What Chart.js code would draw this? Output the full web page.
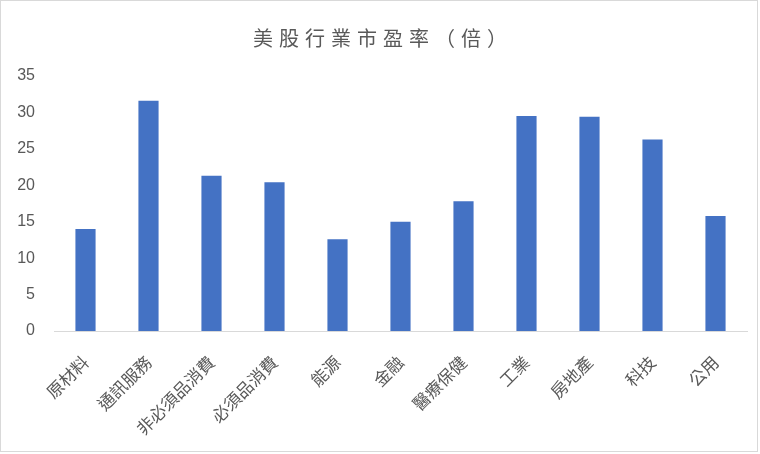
<!DOCTYPE html>
<html>
<head>
<meta charset="utf-8">
<script src="https://cdn.jsdelivr.net/npm/chart.js@4"></script>
<style>
  html, body { margin: 0; padding: 0; background: #fff; }
  #wrap { width: 760px; height: 454px; }
</style>
</head>
<body>
<div id="wrap"><canvas id="chart" width="760" height="454"></canvas></div>
<script>
// ===============================
// Data
// ===============================
const chartTitle = "美股行業市盈率（倍）";
const sectors = ["原材料", "通訊服務", "非必須品消費", "必須品消費", "能源", "金融",
  "醫療保健", "工業", "房地產", "科技", "公用"];
const peRatios = [14.0, 31.6, 21.3, 20.4, 12.6, 15.0, 17.8, 29.5, 29.4, 26.3, 15.8];
const yTicks = [0, 5, 10, 15, 20, 25, 30, 35];

const GREY = "#595959";
const CJK = '"Noto Sans CJK TC", "Noto Sans CJK SC", sans-serif';

// background, frame and spaced-out title
const frame = {
  id: "frame",
  beforeDraw(chart) {
    const ctx = chart.ctx;
    ctx.save();
    ctx.fillStyle = "#fff";
    ctx.fillRect(0, 0, chart.width, chart.height);
    ctx.strokeStyle = "#d9d9d9";
    ctx.lineWidth = 1;
    ctx.strokeRect(0.5, 0.5, chart.width - 3, chart.height - 3);
    ctx.restore();
  },
  afterDraw(chart) {
    const ctx = chart.ctx;
    ctx.save();
    ctx.font = "20px " + CJK;
    ctx.fillStyle = GREY;
    ctx.textAlign = "center";
    ctx.textBaseline = "middle";
    ctx.letterSpacing = "6px";
    ctx.fillText(chartTitle, chart.width / 2 + 3, 38);
    ctx.restore();
  }
};

new Chart(document.getElementById("chart"), {
  type: "bar",
  data: {
    labels: sectors,
    datasets: [{
      data: peRatios,
      backgroundColor: "#4472C4",
      barPercentage: 1,
      categoryPercentage: 0.32
    }]
  },
  plugins: [frame],
  options: {
    responsive: false,
    animation: false,
    layout: { padding: { top: 76, right: 13, bottom: 0, left: 0 } },
    plugins: {
      legend: { display: false },
      title: { display: false },
      tooltip: { enabled: false }
    },
    scales: {
      x: {
        grid: { display: false },
        border: { display: true, color: "#d9d9d9", width: 1 },
        ticks: {
          color: GREY,
          font: { family: CJK, size: 17 },
          minRotation: 45,
          maxRotation: 45,
          padding: 13
        },
        afterFit(scale) { scale.height = 123; }
      },
      y: {
        min: 0,
        max: 35,
        afterBuildTicks(scale) { scale.ticks = yTicks.map(v => ({ value: v })); },
        grid: { display: false },
        border: { display: false },
        ticks: {
          color: GREY,
          font: { family: '"Liberation Sans", Arial, sans-serif', size: 16 },
          padding: 11
        },
        afterFit(scale) { scale.width = 54; }
      }
    }
  }
});
</script>
</body>
</html>
